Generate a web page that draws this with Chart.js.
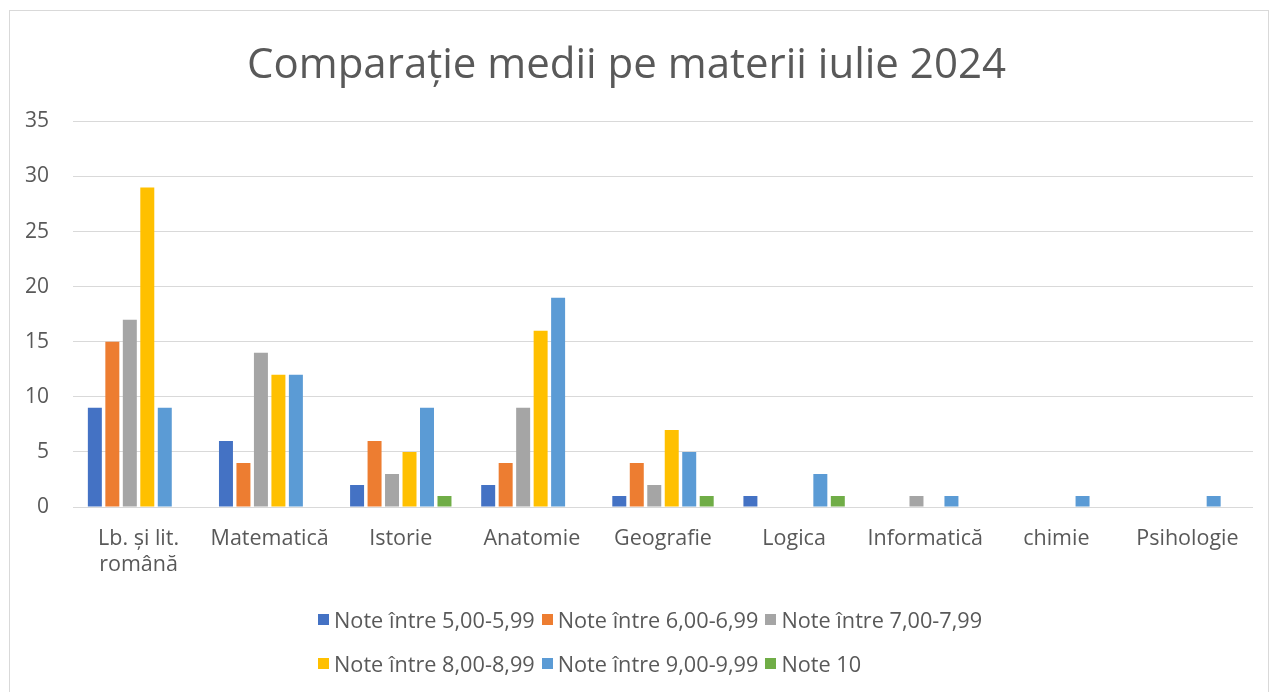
<!DOCTYPE html>
<html>
<head>
<meta charset="utf-8">
<script src="https://cdn.jsdelivr.net/npm/chart.js@4.4.1/dist/chart.umd.min.js"></script>
<style>
  html, body { margin: 0; padding: 0; background: #fff; }
  body { width: 1273px; height: 692px; position: relative; overflow: hidden; font-family: 'Open Sans', sans-serif; }
  #frame { position: absolute; left: 9px; top: 10px; width: 1260px; height: 700px; border: 1px solid #d9d9d9; box-sizing: border-box; }
  #wrap { position: absolute; left: 0; top: 0; width: 1273px; height: 692px; }
  #legend { position: absolute; left: 318px; top: 597px; color: #595959; font-size: 21.7px; }
  .row { display: flex; height: 44px; align-items: center; }
  .item { display: flex; align-items: center; margin-right: 7px; white-space: nowrap; }
  .box { width: 11px; height: 11px; margin-right: 5px; }
</style>
</head>
<body>
<div id="frame"></div>
<div id="wrap"><canvas id="chart" width="1273" height="692"></canvas></div>
<div id="legend"></div>
<script>
const categories = [['Lb. și lit.', 'română'], 'Matematică', 'Istorie', 'Anatomie', 'Geografie', 'Logica', 'Informatică', 'chimie', 'Psihologie'];
const seriesNames = ['Note între 5,00-5,99', 'Note între 6,00-6,99', 'Note între 7,00-7,99', 'Note între 8,00-8,99', 'Note între 9,00-9,99', 'Note 10'];
const note5 = [9, 6, 2, 2, 1, 1, 0, 0, 0];
const note6 = [15, 4, 6, 4, 4, 0, 0, 0, 0];
const note7 = [17, 14, 3, 9, 2, 0, 1, 0, 0];
const note8 = [29, 12, 5, 16, 7, 0, 0, 0, 0];
const note9 = [9, 12, 9, 19, 5, 3, 1, 1, 1];
const note10 = [0, 0, 1, 0, 1, 1, 0, 0, 0];
const colors = ['#4472C4', '#ED7D31', '#A5A5A5', '#FFC000', '#5B9BD5', '#70AD47'];
const yTicks = [0, 5, 10, 15, 20, 25, 30, 35];

const seriesData = [note5, note6, note7, note8, note9, note10];
const textColor = '#595959';
const fontFamily = "'Open Sans', sans-serif";

const datasets = seriesData.map((d, i) => ({
    label: seriesNames[i],
    data: d,
    backgroundColor: colors[i],
    borderWidth: 0,
    categoryPercentage: 0.8,
    barPercentage: 0.8
}));

new Chart(document.getElementById('chart').getContext('2d'), {
    type: 'bar',
    data: { labels: categories, datasets: datasets },
    options: {
        responsive: false,
        animation: false,
        layout: { padding: { left: 0, right: 20, top: 0, bottom: 0 } },
        plugins: {
            legend: { display: false },
            tooltip: { enabled: false },
            title: {
                display: true,
                text: 'Comparație medii pe materii iulie 2024',
                color: textColor,
                font: { family: fontFamily, size: 42, weight: 'normal' },
                padding: { top: 41, bottom: 30 }
            }
        },
        scales: {
            x: {
                grid: { display: false, drawTicks: false },
                border: { display: false },
                ticks: { color: textColor, font: { family: fontFamily, size: 21.5 }, padding: 19, maxRotation: 0, autoSkip: false },
                afterFit: s => { s.height = 185; }
            },
            y: {
                min: 0,
                max: 35,
                afterBuildTicks: s => { s.ticks = yTicks.map(v => ({ value: v })); },
                grid: { color: '#d9d9d9', lineWidth: 1, drawTicks: false },
                border: { display: false },
                ticks: { color: textColor, font: { family: fontFamily, size: 21 }, padding: 24 },
                afterFit: s => { s.width = 73; }
            }
        }
    }
});

// legend in two rows like the original
const legend = document.getElementById('legend');
[[0, 1, 2], [3, 4, 5]].forEach(idxs => {
    const row = document.createElement('div');
    row.className = 'row';
    idxs.forEach(i => {
        const item = document.createElement('div');
        item.className = 'item';
        item.innerHTML = `<span class="box" style="background:${colors[i]}"></span><span>${seriesNames[i]}</span>`;
        row.appendChild(item);
    });
    legend.appendChild(row);
});
</script>
</body>
</html>
